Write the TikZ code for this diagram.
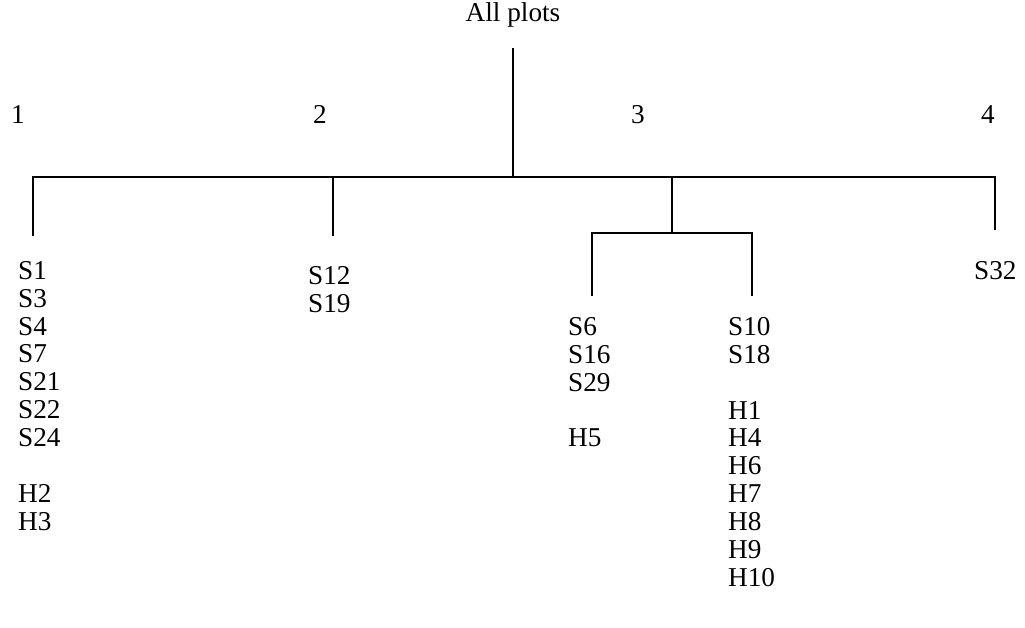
\documentclass[tikz,border=0pt]{standalone}
\usepackage{fontspec}
\setmainfont{Liberation Serif}
\usepackage{tikz}

\begin{document}
\begin{tikzpicture}[x=0.02cm, y=-0.02cm, line width=1.3pt,
  grouptext/.style={inner sep=0pt, font=\fontsize{15.5}{15.9}\selectfont},
  leaflist/.style={anchor=north west, inner sep=0pt, align=left, font=\fontsize{15.5}{15.9}\selectfont}]
\useasboundingbox (0,0) rectangle (1025,628);
% Nodes
\node[grouptext, anchor=base] (root) at (513,22) {All plots};
\node[grouptext, anchor=base] (g1) at (18,124) {1};
\node[grouptext, anchor=base] (g2) at (320,124) {2};
\node[grouptext, anchor=base] (g3) at (638,124) {3};
\node[grouptext, anchor=base] (g4) at (988,124) {4};

\node[leaflist] (leaf1) at (17,260) {S1\\S3\\S4\\S7\\S21\\S22\\S24\\[15.9pt]H2\\H3};
\node[leaflist] (leaf2) at (307,265) {S12\\S19};
\node[leaflist] (leaf3a) at (567,316) {S6\\S16\\S29\\[15.9pt]H5};
\node[leaflist] (leaf3b) at (727,316) {S10\\S18\\[15.9pt]H1\\H4\\H6\\H7\\H8\\H9\\H10};
\node[leaflist] (leaf4) at (973,260) {S32};

% Joints
\coordinate (top) at (513,48);
\coordinate (mid) at (513,177);
\coordinate (b1) at (33,177);
\coordinate (b2) at (333,177);
\coordinate (b3) at (672,177);
\coordinate (b4) at (995,177);
\coordinate (e1) at (33,236);
\coordinate (e2) at (333,236);
\coordinate (e4) at (995,230);
\coordinate (m3) at (672,233);
\coordinate (s1) at (592,233);
\coordinate (s2) at (752,233);
\coordinate (e3a) at (592,296);
\coordinate (e3b) at (752,296);

% Lines
\draw (top) -- (mid);
\draw (e1) -- (b1) -- (b4) -- (e4);
\draw (b2) -- (e2);
\draw (b3) -- (m3);
\draw (e3a) -- (s1) -- (s2) -- (e3b);
\end{tikzpicture}
\end{document}
